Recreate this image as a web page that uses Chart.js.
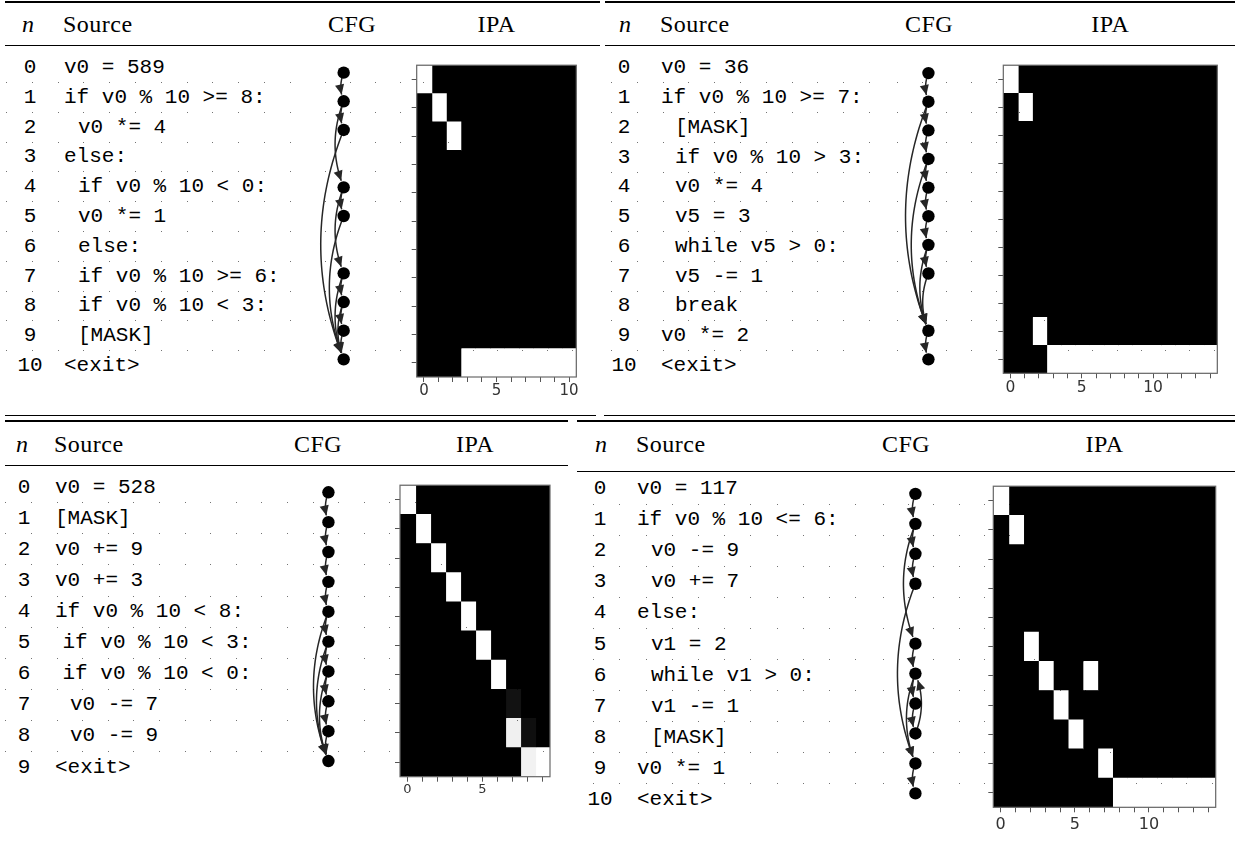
<!DOCTYPE html>
<html>
<head>
<meta charset="utf-8">
<title>Programs, control-flow graphs and IPA maps</title>
<script src="https://cdn.jsdelivr.net/npm/chart.js@4.4.1/dist/chart.umd.min.js"></script>
<style>
  html, body { margin: 0; padding: 0; background: #fff; }
  #page { position: relative; width: 1235px; height: 850px; overflow: hidden; background: #fff; }
  .rule { position: absolute; background: #000; }
  .hd { position: absolute; font-family: "Liberation Serif", serif; font-size: 24px; line-height: 26px;
        white-space: pre; color: #000; letter-spacing: 0.5px; text-align: center; }
  .hd.left { text-align: left; }
  .hd.it { font-style: italic; letter-spacing: 0; }
  .tt { position: absolute; font-family: "Liberation Mono", monospace; font-size: 21px; line-height: 24px;
        white-space: pre; color: #000; }
  .tt.num { text-align: center; width: 40px; }
  canvas { position: absolute; }
</style>
</head>
<body>
<div id="page"></div>
<script>
// ---------------- Program 1 (top left) ----------------
const tlCode = ["v0 = 589", "if v0 % 10 >= 8:", " v0 *= 4", "else:", " if v0 % 10 < 0:", " v0 *= 1",
                " else:", " if v0 % 10 >= 6:", " if v0 % 10 < 3:", " [MASK]", "<exit>"];
const tlNodes = [0, 1, 2, 4, 5, 7, 8, 9, 10];
const tlEdges = [[0, 1], [1, 2], [1, 4], [2, 10], [4, 5], [4, 7], [5, 10], [7, 8], [7, 10], [8, 9], [8, 10], [9, 10]];
const tlIpa = [
  [1, 0, 0, 0, 0, 0, 0, 0, 0, 0, 0],
  [0, 1, 0, 0, 0, 0, 0, 0, 0, 0, 0],
  [0, 0, 1, 0, 0, 0, 0, 0, 0, 0, 0],
  [0, 0, 0, 0, 0, 0, 0, 0, 0, 0, 0],
  [0, 0, 0, 0, 0, 0, 0, 0, 0, 0, 0],
  [0, 0, 0, 0, 0, 0, 0, 0, 0, 0, 0],
  [0, 0, 0, 0, 0, 0, 0, 0, 0, 0, 0],
  [0, 0, 0, 0, 0, 0, 0, 0, 0, 0, 0],
  [0, 0, 0, 0, 0, 0, 0, 0, 0, 0, 0],
  [0, 0, 0, 0, 0, 0, 0, 0, 0, 0, 0],
  [0, 0, 0, 1, 1, 1, 1, 1, 1, 1, 1]
];
const tlIpaTicks = [0, 5, 10];

// ---------------- Program 2 (top right) ----------------
const trCode = ["v0 = 36", "if v0 % 10 >= 7:", " [MASK]", " if v0 % 10 > 3:", " v0 *= 4", " v5 = 3",
                " while v5 > 0:", " v5 -= 1", " break", "v0 *= 2", "<exit>"];
const trNodes = [0, 1, 2, 3, 4, 5, 6, 7, 9, 10];
const trEdges = [[0, 1], [1, 2], [1, 9], [2, 3], [3, 4], [3, 9], [4, 5], [5, 6], [6, 7], [6, 9], [7, 9], [9, 10]];
const trIpa = [
  [1, 0, 0, 0, 0, 0, 0, 0, 0, 0, 0, 0, 0, 0, 0],
  [0, 1, 0, 0, 0, 0, 0, 0, 0, 0, 0, 0, 0, 0, 0],
  [0, 0, 0, 0, 0, 0, 0, 0, 0, 0, 0, 0, 0, 0, 0],
  [0, 0, 0, 0, 0, 0, 0, 0, 0, 0, 0, 0, 0, 0, 0],
  [0, 0, 0, 0, 0, 0, 0, 0, 0, 0, 0, 0, 0, 0, 0],
  [0, 0, 0, 0, 0, 0, 0, 0, 0, 0, 0, 0, 0, 0, 0],
  [0, 0, 0, 0, 0, 0, 0, 0, 0, 0, 0, 0, 0, 0, 0],
  [0, 0, 0, 0, 0, 0, 0, 0, 0, 0, 0, 0, 0, 0, 0],
  [0, 0, 0, 0, 0, 0, 0, 0, 0, 0, 0, 0, 0, 0, 0],
  [0, 0, 1, 0, 0, 0, 0, 0, 0, 0, 0, 0, 0, 0, 0],
  [0, 0, 0, 1, 1, 1, 1, 1, 1, 1, 1, 1, 1, 1, 1]
];
const trIpaTicks = [0, 5, 10];

// ---------------- Program 3 (bottom left) ----------------
const blCode = ["v0 = 528", "[MASK]", "v0 += 9", "v0 += 3", "if v0 % 10 < 8:", " if v0 % 10 < 3:",
                " if v0 % 10 < 0:", "  v0 -= 7", "  v0 -= 9", "<exit>"];
const blNodes = [0, 1, 2, 3, 4, 5, 6, 7, 8, 9];
const blEdges = [[0, 1], [1, 2], [2, 3], [3, 4], [4, 5], [4, 9], [5, 6], [5, 9], [6, 7], [6, 9], [7, 8], [8, 9]];
const blIpa = [
  [1, 0, 0, 0, 0, 0, 0, 0, 0, 0],
  [0, 1, 0, 0, 0, 0, 0, 0, 0, 0],
  [0, 0, 1, 0, 0, 0, 0, 0, 0, 0],
  [0, 0, 0, 1, 0, 0, 0, 0, 0, 0],
  [0, 0, 0, 0, 1, 0, 0, 0, 0, 0],
  [0, 0, 0, 0, 0, 1, 0, 0, 0, 0],
  [0, 0, 0, 0, 0, 0, 1, 0, 0, 0],
  [0, 0, 0, 0, 0, 0, 0, 0.07, 0, 0],
  [0, 0, 0, 0, 0, 0, 0, 0.94, 0.06, 0],
  [0, 0, 0, 0, 0, 0, 0, 0, 0.95, 1]
];
const blIpaTicks = [0, 5];

// ---------------- Program 4 (bottom right) ----------------
const brCode = ["v0 = 117", "if v0 % 10 <= 6:", " v0 -= 9", " v0 += 7", "else:", " v1 = 2",
                " while v1 > 0:", " v1 -= 1", " [MASK]", "v0 *= 1", "<exit>"];
const brNodes = [0, 1, 2, 3, 5, 6, 7, 8, 9, 10];
const brEdges = [[0, 1], [1, 2], [1, 5], [2, 3], [3, 9], [5, 6], [6, 7], [6, 9], [7, 8], [8, 6], [9, 10]];
const brIpa = [
  [1, 0, 0, 0, 0, 0, 0, 0, 0, 0, 0, 0, 0, 0, 0],
  [0, 1, 0, 0, 0, 0, 0, 0, 0, 0, 0, 0, 0, 0, 0],
  [0, 0, 0, 0, 0, 0, 0, 0, 0, 0, 0, 0, 0, 0, 0],
  [0, 0, 0, 0, 0, 0, 0, 0, 0, 0, 0, 0, 0, 0, 0],
  [0, 0, 0, 0, 0, 0, 0, 0, 0, 0, 0, 0, 0, 0, 0],
  [0, 0, 1, 0, 0, 0, 0, 0, 0, 0, 0, 0, 0, 0, 0],
  [0, 0, 0, 1, 0, 0, 1, 0, 0, 0, 0, 0, 0, 0, 0],
  [0, 0, 0, 0, 1, 0, 0, 0, 0, 0, 0, 0, 0, 0, 0],
  [0, 0, 0, 0, 0, 1, 0, 0, 0, 0, 0, 0, 0, 0, 0],
  [0, 0, 0, 0, 0, 0, 0, 1, 0, 0, 0, 0, 0, 0, 0],
  [0, 0, 0, 0, 0, 0, 0, 0, 1, 1, 1, 1, 1, 1, 1]
];
const brIpaTicks = [0, 5, 10];

// ---------------- Page geometry (pixels) ----------------
const panels = [
  { code: tlCode, nodes: tlNodes, edges: tlEdges, ipa: tlIpa, ticks: tlIpaTicks,
    rowY0: 67, rowDY: 29.8, nX: 28, numX: 30, codeX: 64, indent: 14, cfgX: 352, nodeX: 346,
    hdrBase: 32, heat: [416.7, 60, 576.3, 377], tickFont: 15, tickPad: 0,
    dots: [[6, 300, 25.8], [325, 410, 25], [423, 577, 24.8]] },
  { code: trCode, nodes: trNodes, edges: trEdges, ipa: trIpa, ticks: trIpaTicks,
    rowY0: 67.5, rowDY: 29.75, nX: 625, numX: 624, codeX: 661, indent: 14, cfgX: 929, nodeX: 930.7,
    hdrBase: 32, heat: [1003.3, 60, 1217.3, 373.3], tickFont: 15.5, tickPad: 0,
    dots: [[611, 880, 25.8], [896.7, 1000, 24.8], [1019.4, 1217, 24.3]] },
  { code: blCode, nodes: blNodes, edges: blEdges, ipa: blIpa, ticks: blIpaTicks,
    rowY0: 486.7, rowDY: 31.1, nX: 22, numX: 24, codeX: 55, indent: 7.5, cfgX: 318, nodeX: 330.7,
    hdrBase: 452, heat: [400, 480, 550, 776.7], tickFont: 13, tickPad: 0,
    dots: [[5.4, 560, 25.6]] },
  { code: brCode, nodes: brNodes, edges: brEdges, ipa: brIpa, ticks: brIpaTicks,
    rowY0: 488.3, rowDY: 31.07, nX: 601, numX: 600, codeX: 637, indent: 14, cfgX: 906, nodeX: 917.7,
    hdrBase: 452, heat: [993.3, 481, 1215.7, 807.3], tickFont: 16, tickPad: 3,
    dots: [[593.1, 870, 26.2], [882.7, 1215, 25.3]] }
];

// booktabs-style rules: [x0, x1, y, thickness]
const rules = [
  [5, 600, 1.2, 2.0], [605, 1235, 1.2, 2.0],
  [5, 600, 44.5, 1.1], [605, 1235, 44.5, 1.1],
  [5, 596, 414.8, 1.6], [604, 1235, 414.8, 1.6],
  [5, 568, 420.3, 1.6], [577, 1235, 420.3, 1.6],
  [5, 568, 464.6, 1.1], [577, 1235, 470.8, 1.1]
];

const page = document.getElementById('page');

function addDiv(cls, text, left, top, width) {
  const d = document.createElement('div');
  d.className = cls;
  d.textContent = text;
  d.style.left = left + 'px';
  d.style.top = top + 'px';
  if (width !== undefined) d.style.width = width + 'px';
  page.appendChild(d);
  return d;
}

rules.forEach(([x0, x1, y, t]) => {
  const r = document.createElement('div');
  r.className = 'rule';
  r.style.left = x0 + 'px';
  r.style.top = y + 'px';
  r.style.width = (x1 - x0) + 'px';
  r.style.height = t + 'px';
  page.appendChild(r);
});

// ---------------- Table headers and source lines ----------------
panels.forEach(p => {
  const hTop = p.hdrBase - 21.1;
  addDiv('hd it', 'n', p.nX - 20, hTop, 40);
  addDiv('hd left', 'Source', p.codeX - 1, hTop);
  addDiv('hd', 'CFG', p.cfgX - 50, hTop, 100);
  addDiv('hd', 'IPA', (p.heat[0] + p.heat[2]) / 2 - 50, hTop, 100);
  p.code.forEach((line, i) => {
    const y = p.rowY0 + i * p.rowDY;
    const top = y - 11.1;
    addDiv('tt num', String(i), p.numX - 20, top);
    const lead = line.length - line.trimStart().length;
    addDiv('tt', line.trimStart(), p.codeX + lead * p.indent, top);
  });
});

function makeCanvas(left, top, w, h, z) {
  const c = document.createElement('canvas');
  c.width = w; c.height = h;
  c.style.left = left + 'px'; c.style.top = top + 'px';
  c.style.width = w + 'px'; c.style.height = h + 'px';
  if (z) c.style.zIndex = z;
  page.appendChild(c);
  return c;
}

// ---------------- Control-flow graphs ----------------
function quad(p0, c, p2, t) {
  const u = 1 - t;
  return { x: u * u * p0.x + 2 * u * t * c.x + t * t * p2.x,
           y: u * u * p0.y + 2 * u * t * c.y + t * t * p2.y };
}
function quadTangent(p0, c, p2, t) {
  return { x: 2 * (1 - t) * (c.x - p0.x) + 2 * t * (p2.x - c.x),
           y: 2 * (1 - t) * (c.y - p0.y) + 2 * t * (p2.y - c.y) };
}
function solveT(p0, c, p2, center, r, fromStart) {
  let lo = 0, hi = 1;
  for (let k = 0; k < 40; k++) {
    const m = (lo + hi) / 2;
    const q = quad(p0, c, p2, m);
    const d = Math.hypot(q.x - center.x, q.y - center.y);
    if (fromStart) { if (d < r) lo = m; else hi = m; }
    else { if (d < r) hi = m; else lo = m; }
  }
  return (lo + hi) / 2;
}

function makeCfg(p) {
  const n = p.code.length;
  const left = Math.round(p.nodeX) - 55, width = 80;
  const top = Math.floor(p.rowY0 - p.rowDY / 2);
  const height = Math.ceil(p.rowY0 + (n - 0.5) * p.rowDY) - top;
  const canvas = makeCanvas(left, top, width, height);
  const edges = p.edges;
  const edgePlugin = {
    id: 'cfgEdges',
    beforeDatasetsDraw(chart) {
      const { ctx, scales } = chart;
      const xs = scales.x, ys = scales.y;
      const rad = 0.2;
      ctx.save();
      ctx.strokeStyle = '#262626';
      ctx.fillStyle = '#262626';
      ctx.lineWidth = 1.5;
      edges.forEach(([a, b]) => {
        const p0 = { x: xs.getPixelForValue(0), y: ys.getPixelForValue(a) };
        const p2 = { x: xs.getPixelForValue(0), y: ys.getPixelForValue(b) };
        const dx = p2.x - p0.x, dy = p2.y - p0.y;
        const c = { x: (p0.x + p2.x) / 2 - rad * dy, y: (p0.y + p2.y) / 2 + rad * dx };
        const t0 = solveT(p0, c, p2, p0, 5.5, true);
        const t1 = solveT(p0, c, p2, p2, 7.0, false);
        ctx.beginPath();
        for (let k = 0; k <= 40; k++) {
          const q = quad(p0, c, p2, t0 + (t1 - t0) * k / 40);
          if (k === 0) ctx.moveTo(q.x, q.y); else ctx.lineTo(q.x, q.y);
        }
        ctx.stroke();
        const tip = quad(p0, c, p2, t1);
        const tg = quadTangent(p0, c, p2, t1);
        const len = Math.hypot(tg.x, tg.y);
        const ux = tg.x / len, uy = tg.y / len;
        const L = 10, hw = 4.6;
        const bx = tip.x - ux * L, by = tip.y - uy * L;
        ctx.beginPath();
        ctx.moveTo(tip.x, tip.y);
        ctx.lineTo(bx - uy * hw, by + ux * hw);
        ctx.lineTo(bx + uy * hw, by - ux * hw);
        ctx.closePath();
        ctx.fill();
      });
      ctx.restore();
    }
  };
  new Chart(canvas, {
    type: 'scatter',
    data: {
      datasets: [{
        data: p.nodes.map(i => ({ x: 0, y: i })),
        pointRadius: 6.2,
        pointBackgroundColor: '#000',
        pointBorderWidth: 0,
        clip: false
      }]
    },
    options: {
      responsive: false, animation: false, devicePixelRatio: 1, events: [],
      layout: { padding: 0 },
      plugins: { legend: { display: false }, tooltip: { enabled: false } },
      scales: {
        x: { type: 'linear', display: false, min: left - p.nodeX, max: left + width - p.nodeX },
        y: { type: 'linear', display: false, reverse: true,
             min: (top - p.rowY0) / p.rowDY, max: (top + height - p.rowY0) / p.rowDY }
      }
    },
    plugins: [edgePlugin]
  });
}

// ---------------- IPA heat maps ----------------
const gray = v => { const c = Math.round(v * 255); return `rgb(${c},${c},${c})`; };

function makeHeat(p) {
  const [L, T, R, B] = p.heat;
  const m = p.ipa, rows = m.length, cols = m[0].length;
  const yW = 6, xH = 32;
  const cl = Math.floor(L) - 10, ct = Math.floor(T) - 2;
  const cr = Math.ceil(R) + 10, cb = Math.ceil(B) + xH + 4;
  const canvas = makeCanvas(cl, ct, cr - cl, cb - ct);
  const rowLabels = m.map((_, i) => String(i));
  const colTicks = m[0].map((_, j) => j);
  const datasets = colTicks.map(j => ({
    data: m.map(() => [j - 0.5, j + 0.5 + (j < cols - 1 ? 0.05 : 0)]),
    backgroundColor: m.map(row => gray(row[j])),
    borderWidth: 0,
    borderSkipped: false,
    barPercentage: 1,
    categoryPercentage: 1,
    grouped: false
  }));
  const framePlugin = {
    id: 'heatFrame',
    beforeDatasetsDraw(chart) {
      const a = chart.chartArea, ctx = chart.ctx;
      ctx.save();
      ctx.fillStyle = gray(0);
      ctx.fillRect(a.left, a.top, a.right - a.left, a.bottom - a.top);
      ctx.restore();
    },
    afterDraw(chart) {
      const a = chart.chartArea, ctx = chart.ctx;
      ctx.save();
      ctx.strokeStyle = '#6a6a6a';
      ctx.lineWidth = 1.2;
      ctx.strokeRect(a.left, a.top, a.right - a.left, a.bottom - a.top);
      ctx.restore();
    }
  };
  new Chart(canvas, {
    type: 'bar',
    data: { labels: rowLabels, datasets },
    options: {
      indexAxis: 'y',
      responsive: false, animation: false, devicePixelRatio: 1, events: [],
      layout: { padding: { left: L - cl - yW, top: T - ct, right: cr - R, bottom: cb - B - xH } },
      plugins: { legend: { display: false }, tooltip: { enabled: false } },
      scales: {
        x: {
          type: 'linear', position: 'bottom', min: -0.5, max: cols - 0.5,
          afterBuildTicks: s => { s.ticks = colTicks.map(v => ({ value: v })); },
          afterFit: s => { s.height = xH; },
          grid: { drawOnChartArea: false, drawTicks: true, tickLength: 5, color: '#555', lineWidth: 1 },
          border: { display: false },
          ticks: {
            autoSkip: false, maxRotation: 0, minRotation: 0, padding: p.tickPad, color: '#333',
            font: { family: 'DejaVu Sans', size: p.tickFont },
            callback: v => (p.ticks.includes(v) ? String(v) : '')
          }
        },
        y: {
          type: 'category', position: 'left', offset: true,
          afterFit: s => { s.width = yW; },
          grid: { offset: false, drawOnChartArea: false, drawTicks: true, tickLength: 5, color: '#555', lineWidth: 1 },
          border: { display: false },
          ticks: { callback: () => '', padding: 0 }
        }
      }
    },
    plugins: [framePlugin]
  });
}

panels.forEach(p => { makeCfg(p); makeHeat(p); });

// ---------------- Dotted row guides (drawn over everything) ----------------
const dotCanvas = makeCanvas(0, 0, 1235, 850, 20);
dotCanvas.style.pointerEvents = 'none';
const dctx = dotCanvas.getContext('2d');
dctx.fillStyle = 'rgba(0,0,0,0.55)';
panels.forEach(p => {
  const n = p.code.length;
  for (let i = 0; i < n - 1; i++) {
    const y = Math.round(p.rowY0 + (i + 0.5) * p.rowDY);
    p.dots.forEach(([x0, x1, step]) => {
      for (let x = x0; x <= x1; x += step) dctx.fillRect(Math.round(x), y, 1, 1);
    });
  }
});
</script>
</body>
</html>
